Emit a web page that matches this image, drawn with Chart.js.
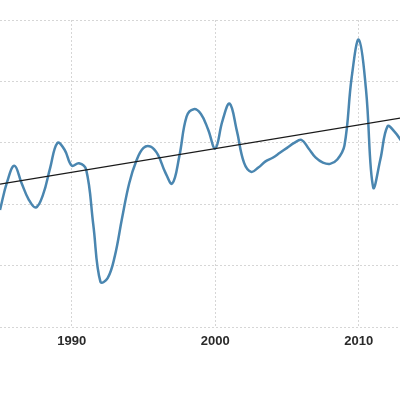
<!DOCTYPE html>
<html>
<head>
<meta charset="utf-8">
<script src="https://cdn.jsdelivr.net/npm/chart.js@4/dist/chart.umd.min.js"></script>
<style>
  html, body { margin: 0; padding: 0; background: #fff; }
  #wrap { width: 400px; height: 400px; }
</style>
</head>
<body>
<div id="wrap"><canvas id="chart" width="400" height="400"></canvas></div>
<script>
// half-year samples
const years = [1985.0, 1985.5, 1986.0, 1986.5, 1987.0, 1987.5, 1988.0, 1988.5, 1989.0, 1989.5,
  1990.0, 1990.5, 1991.0, 1991.5, 1992.0, 1992.5, 1993.0, 1993.5, 1994.0, 1994.5,
  1995.0, 1995.5, 1996.0, 1996.5, 1997.0, 1997.5, 1998.0, 1998.5, 1999.0, 1999.5,
  2000.0, 2000.5, 2001.0, 2001.5, 2002.0, 2002.5, 2003.0, 2003.5, 2004.0, 2004.5,
  2005.0, 2005.5, 2006.0, 2006.5, 2007.0, 2007.5, 2008.0, 2008.5, 2009.0, 2009.5,
  2010.0, 2010.5, 2011.0, 2011.5, 2012.0, 2012.5, 2013.0];
const values = [1.91, 2.37, 2.63, 2.35, 2.08, 1.95, 2.16, 2.60, 3.00, 2.89,
  2.63, 2.67, 2.57, 1.67, 0.74, 0.80, 1.16, 1.77, 2.34, 2.71,
  2.92, 2.94, 2.81, 2.53, 2.34, 2.79, 3.43, 3.55, 3.47, 3.22,
  2.91, 3.36, 3.64, 3.20, 2.68, 2.53, 2.60, 2.70, 2.76, 2.84,
  2.92, 3.00, 3.05, 2.91, 2.76, 2.68, 2.66, 2.73, 2.96, 4.06,
  4.68, 3.87, 2.28, 2.73, 3.27, 3.18, 3.02];

// linear trend line ends
const trendYears = [1985, 2013];
const trendValues = [2.33, 3.41];

const tickYears = [1990, 2000, 2010];

const series = years.map((y, i) => ({ x: y, y: values[i] }));
const trend = trendYears.map((y, i) => ({ x: y, y: trendValues[i] }));

const ctx = document.getElementById('chart').getContext('2d');
new Chart(ctx, {
  type: 'line',
  data: {
    datasets: [
      {
        data: trend,
        borderColor: '#1a1a1a',
        borderWidth: 1.2,
        pointRadius: 0,
        tension: 0
      },
      {
        data: series,
        borderColor: '#4a86b0',
        borderWidth: 2.5,
        pointRadius: 0,
        tension: 0.4
      }
    ]
  },
  options: {
    responsive: false,
    animation: false,
    layout: { padding: { top: 20, bottom: 45, left: 0, right: 0 } },
    plugins: { legend: { display: false }, tooltip: { enabled: false } },
    scales: {
      x: {
        type: 'linear',
        min: 1985,
        max: 2012.87,
        afterBuildTicks: axis => { axis.ticks = tickYears.map(v => ({ value: v })); },
        border: { display: false, dash: [2, 2] },
        grid: { color: '#d6d6d6', lineWidth: 1, drawTicks: false },
        ticks: {
          padding: 6,
          color: '#2a2a2a',
          font: { family: "'Liberation Sans', sans-serif", size: 13, weight: 'bold' },
          callback: v => String(v),
          maxRotation: 0
        }
      },
      y: {
        min: 0,
        max: 5,
        border: { display: false, dash: [2, 2] },
        grid: { color: '#d6d6d6', lineWidth: 1, drawTicks: false },
        ticks: { display: false, stepSize: 1 },
        afterFit: axis => { axis.width = 0; }
      }
    }
  }
});
</script>
</body>
</html>
